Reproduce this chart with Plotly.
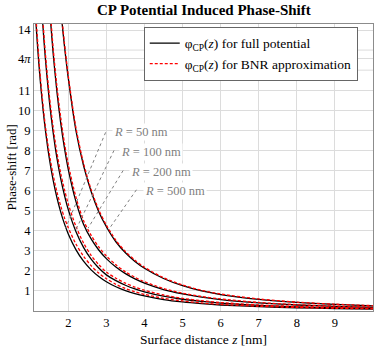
import plotly.graph_objects as go
import math

# ---------------- data ----------------
z_nm = [1.1, 1.15, 1.2, 1.25, 1.3, 1.35, 1.4, 1.5, 1.6, 1.7, 1.8, 1.9, 2.0, 2.2, 2.4,
        2.6, 2.8, 3.0, 3.25, 3.5, 3.75, 4.0, 4.5, 5.0, 5.5, 6.0, 7.0, 8.0, 9.0, 10.0]

radii_labels = ["R = 50 nm", "R = 100 nm", "R = 200 nm", "R = 500 nm"]

full_R50 = [16.0, 14.4, 13.0, 11.8, 10.75, 9.82, 9.0, 7.63, 6.54, 5.66, 4.94, 4.34, 3.84, 3.06, 2.48,
            2.05, 1.72, 1.46, 1.21, 1.02, 0.87, 0.75, 0.57, 0.45, 0.365, 0.30, 0.215, 0.16, 0.124, 0.098]
full_R100 = [23.2, 20.7, 18.6, 16.75, 15.16, 13.77, 12.54, 10.52, 8.93, 7.64, 6.61, 5.76, 5.05, 3.96, 3.17,
             2.58, 2.14, 1.80, 1.51, 1.283, 1.10, 0.957, 0.738, 0.585, 0.475, 0.392, 0.279, 0.208, 0.16, 0.127]
full_R200 = [35.5, 31.5, 28.1, 25.1, 22.6, 20.4, 18.5, 15.36, 12.9, 10.95, 9.39, 8.11, 7.06, 5.46, 4.32,
             3.59, 3.04, 2.61, 2.19, 1.86, 1.60, 1.39, 1.07, 0.85, 0.69, 0.57, 0.406, 0.30, 0.233, 0.185]
full_R500 = [57.0, 50.0, 45.0, 40.0, 36.0, 32.5, 29.5, 24.5, 20.5, 17.6, 15.1, 13.2, 11.6, 9.0, 7.25,
             5.95, 4.95, 4.2, 3.45, 2.9, 2.47, 2.13, 1.62, 1.26, 1.0, 0.82, 0.58, 0.43, 0.33, 0.26]

bnr_R50 = [16.3, 14.7, 13.3, 12.0, 10.97, 10.02, 9.18, 7.86, 6.80, 5.94, 5.24, 4.64, 4.15, 3.34, 2.73,
           2.26, 1.89, 1.61, 1.33, 1.12, 0.96, 0.83, 0.63, 0.50, 0.40, 0.33, 0.237, 0.176, 0.136, 0.108]
bnr_R100 = [23.7, 21.1, 19.0, 17.1, 15.5, 14.05, 12.8, 10.78, 9.2, 7.91, 6.87, 6.05, 5.33, 4.22, 3.39,
            2.77, 2.31, 1.94, 1.63, 1.386, 1.19, 1.034, 0.797, 0.632, 0.513, 0.423, 0.301, 0.225, 0.173, 0.137]
bnr_R200 = [36.0, 32.0, 28.5, 25.5, 22.9, 20.7, 18.8, 15.67, 13.16, 11.22, 9.67, 8.35, 7.31, 5.68, 4.51,
            3.77, 3.19, 2.74, 2.30, 1.95, 1.68, 1.46, 1.12, 0.89, 0.72, 0.60, 0.426, 0.315, 0.245, 0.194]
bnr_R500 = [57.5, 50.5, 45.5, 40.4, 36.4, 32.8, 29.8, 24.7, 20.7, 17.8, 15.25, 13.33, 11.72, 9.14, 7.36,
            6.05, 5.04, 4.28, 3.52, 2.96, 2.53, 2.18, 1.66, 1.30, 1.03, 0.845, 0.60, 0.443, 0.34, 0.268]

# label anchor (text left/middle) and pin end on the curve, in data units
label_x = [3.14, 3.34, 3.60, 3.96]
label_y = [8.93, 7.94, 6.95, 5.99]
pin_start_x = [2.98, 3.20, 3.44, 3.79]
pin_start_y = [8.90, 8.00, 7.00, 6.04]
pin_end_x = [1.93, 2.18, 2.52, 3.09]
pin_end_y = [4.13, 3.97, 4.13, 4.14]

x_ticks = [2, 3, 4, 5, 6, 7, 8, 9]
y_ticks = [1, 2, 3, 4, 5, 6, 7, 8, 9, 10, 11, 14, 4 * math.pi]
y_text = ["1", "2", "3", "4", "5", "6", "7", "8", "9", "10", "11", "14", "4<i>π</i>"]
y_extra_grid = [12, 13]

# ---------------- figure ----------------
FONT = "Liberation Serif"
GRID = "#dcdcdc"
fig = go.Figure()

full_sets = [full_R50, full_R100, full_R200, full_R500]
bnr_sets = [bnr_R50, bnr_R100, bnr_R200, bnr_R500]

for i, ys in enumerate(full_sets):
    fig.add_trace(go.Scatter(
        x=z_nm, y=ys, mode="lines",
        line=dict(color="black", width=1.3, shape="spline", smoothing=0.8),
        name="φ<sub>CP</sub>(<i>z</i>) for full potential",
        legendgroup="full", showlegend=(i == 0), hoverinfo="skip"))

for i, ys in enumerate(bnr_sets):
    fig.add_trace(go.Scatter(
        x=z_nm, y=ys, mode="lines",
        line=dict(color="red", width=1.3, dash="3px,2px", shape="spline", smoothing=0.8),
        name="φ<sub>CP</sub>(<i>z</i>) for BNR approximation",
        legendgroup="bnr", showlegend=(i == 0), hoverinfo="skip"))

shapes = []
for g in y_extra_grid:
    shapes.append(dict(type="line", xref="paper", yref="y", x0=0, x1=1, y0=g, y1=g,
                       layer="below", line=dict(color=GRID, width=1)))
annotations = []
for i in range(4):
    shapes.append(dict(type="line", xref="x", yref="y",
                       x0=pin_start_x[i], y0=pin_start_y[i], x1=pin_end_x[i], y1=pin_end_y[i],
                       line=dict(color="#808080", width=1, dash="dot")))
    annotations.append(dict(x=label_x[i], y=label_y[i], xref="x", yref="y",
                            text="<i>R</i>" + radii_labels[i][1:], showarrow=False,
                            xanchor="left", yanchor="middle", bgcolor="white",
                            font=dict(family=FONT, size=12.5, color="#7f7f7f")))

annotations.append(dict(x=-0.065, y=0.5, xref="paper", yref="paper", text="Phase-shift [rad]",
                        textangle=-90, showarrow=False, xanchor="center", yanchor="middle",
                        font=dict(family=FONT, size=13, color="black")))
annotations.append(dict(x=0.5, y=-0.098, xref="paper", yref="paper",
                        text="Surface distance <i>z</i> [nm]", showarrow=False,
                        xanchor="center", yanchor="middle",
                        font=dict(family=FONT, size=13.5, color="black")))
annotations.append(dict(x=0.5, y=1.049, xref="paper", yref="paper",
                        text="<b>CP Potential Induced Phase-Shift</b>", showarrow=False,
                        xanchor="center", yanchor="middle",
                        font=dict(family=FONT, size=15, color="black")))

fig.update_layout(
    width=374, height=350,
    margin=dict(l=34, r=1, t=24, b=39, autoexpand=False),
    paper_bgcolor="white", plot_bgcolor="white",
    font=dict(family=FONT, size=12.5, color="black"),
    showlegend=True,
    legend=dict(x=0.955, y=0.99, xanchor="right", yanchor="top",
                bgcolor="white", bordercolor="#666666", borderwidth=1,
                font=dict(family=FONT, size=13.5), tracegroupgap=0, itemwidth=30),
    shapes=shapes, annotations=annotations,
)
fig.update_xaxes(range=[1.1, 10.0], tickvals=x_ticks, showgrid=True, gridcolor=GRID, gridwidth=1,
                 showline=True, mirror=True, linecolor="#8c8c8c", linewidth=1.2, zeroline=False,
                 ticks="", tickfont=dict(family=FONT, size=12.5), automargin=False)
fig.update_yaxes(range=[0, 14.3], tickvals=y_ticks, ticktext=y_text, showgrid=True, gridcolor=GRID,
                 gridwidth=1, showline=True, mirror=True, linecolor="#8c8c8c", linewidth=1.2,
                 zeroline=False, ticks="", tickfont=dict(family=FONT, size=12.5), automargin=False)

# remove the browser's default page margin so the figure sits at the window corner
fig.write_html("out.html", config={"displayModeBar": False},
               post_script="document.body.style.margin='0px';")
